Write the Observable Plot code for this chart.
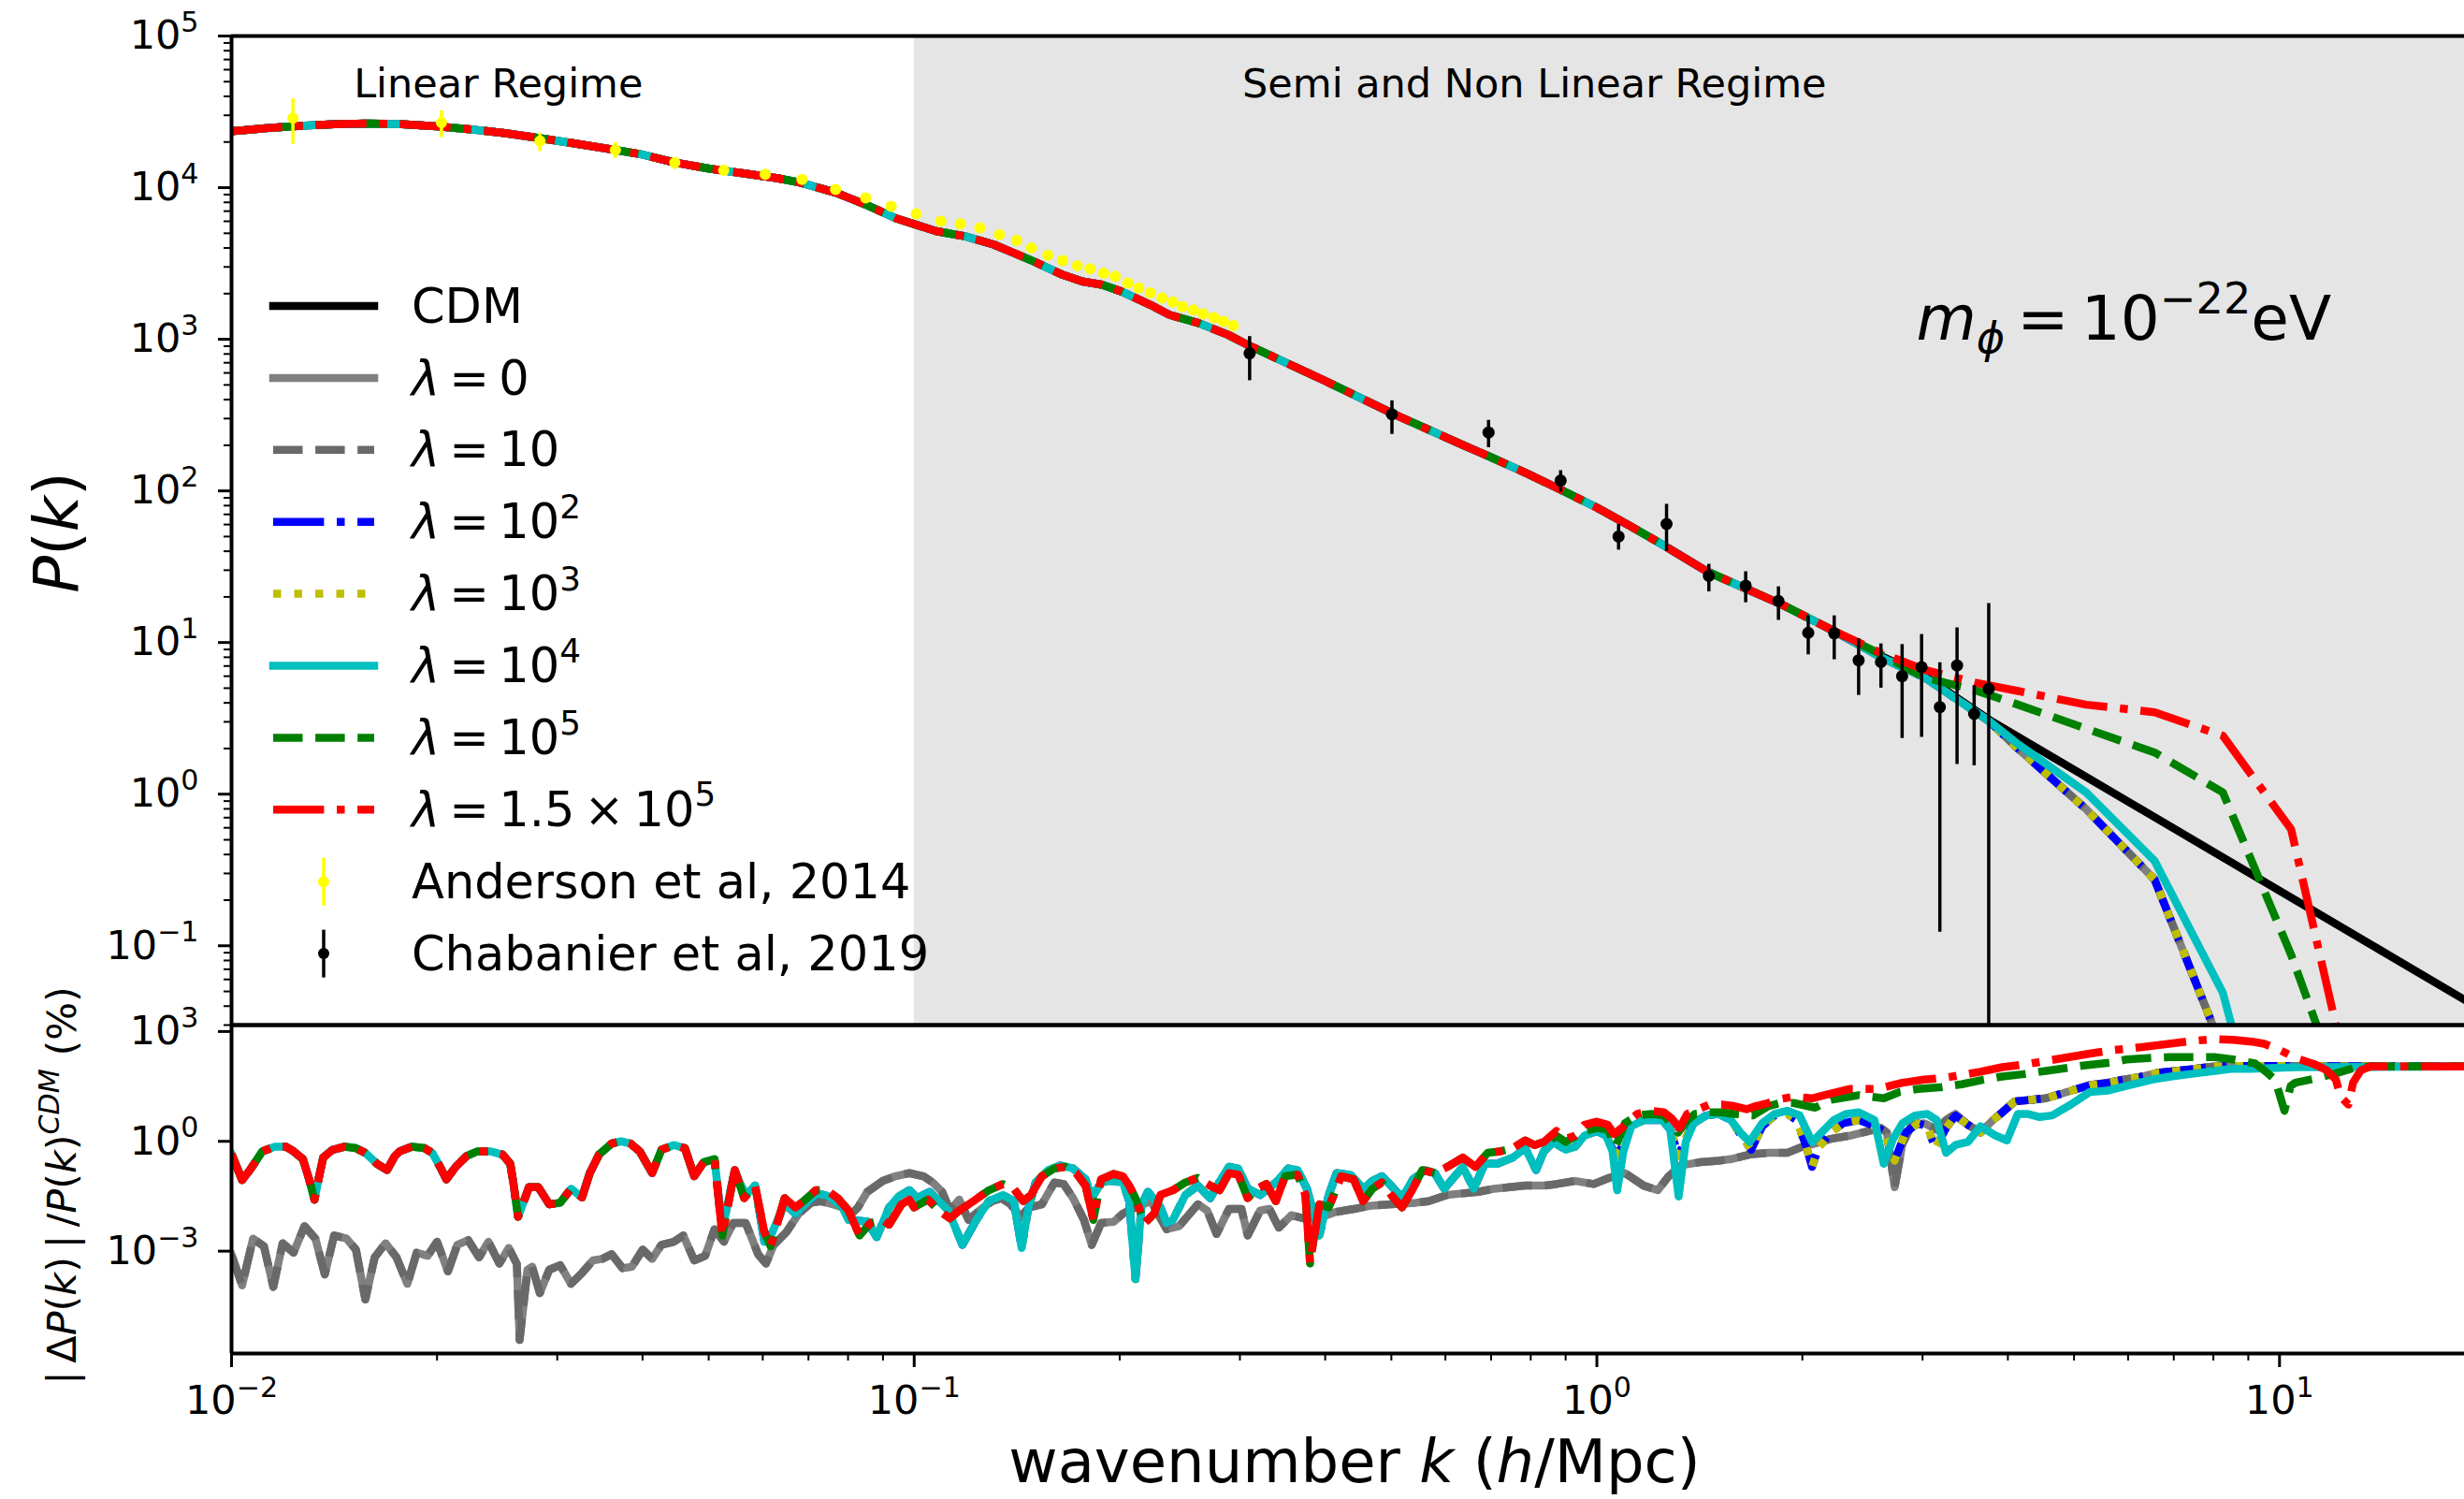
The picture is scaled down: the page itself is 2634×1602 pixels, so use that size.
<!DOCTYPE html>
<html><head><meta charset="utf-8">
<script src="https://cdn.jsdelivr.net/npm/d3@7"></script>
<script src="https://cdn.jsdelivr.net/npm/@observablehq/plot@0.6"></script>
<style>
body{margin:0;background:#fff;}
#fig{position:relative;width:2634px;height:1602px;overflow:hidden;background:#fff;font-family:"DejaVu Sans",sans-serif;}
#fig svg{position:absolute;left:0;overflow:visible;}
</style></head><body><div id="fig"></div>
<script>
// ===================== DATA =====================
// Top panel: power spectrum P(k), pairs [log10 k, log10 P]
const pkCommon = [[-2.0,4.372],[-1.95,4.392],[-1.9,4.407],[-1.85,4.418],[-1.8,4.423],[-1.75,4.419],[-1.7,4.404],[-1.65,4.385],[-1.6,4.36],[-1.548,4.326],[-1.5,4.293],[-1.438,4.249],[-1.4,4.22],[-1.351,4.166],[-1.3,4.125],[-1.25,4.094],[-1.2,4.062],[-1.167,4.033],[-1.115,3.967],[-1.071,3.888],[-1.028,3.80],[-0.968,3.713],[-0.925,3.679],[-0.883,3.624],[-0.854,3.569],[-0.825,3.514],[-0.783,3.426],[-0.754,3.382],[-0.725,3.360],[-0.697,3.316],[-0.654,3.227],[-0.626,3.161],[-0.583,3.106],[-0.540,3.029],[-0.511,2.962],[-0.40,2.73],[-0.297,2.506],[-0.20,2.31],[-0.154,2.22],[-0.10,2.11],[-0.054,2.01],[0.0,1.89],[0.046,1.776],[0.096,1.646],[0.162,1.467],[0.268,1.257],[0.35,1.07]];
const pkCDMTail = [[0.417,0.91],[0.48,0.78],[0.575,0.49],[1.271,-1.356]];
const pkLowLambdaTail = [[0.417,0.90],[0.48,0.77],[0.575,0.48],[0.617,0.30],[0.717,-0.10],[0.817,-0.563],[0.917,-1.69],[1.017,-3.0]];
const pkCyanTail = [[0.417,0.90],[0.48,0.77],[0.575,0.48],[0.617,0.33],[0.717,0.011],[0.817,-0.44],[0.917,-1.31],[1.017,-3.0]];
const pkGreenTail = [[0.417,0.92],[0.48,0.77],[0.555,0.684],[0.617,0.59],[0.717,0.431],[0.817,0.275],[0.917,0.011],[1.017,-1.06],[1.117,-2.3]];
const pkRedTail = [[0.417,0.93],[0.48,0.82],[0.555,0.735],[0.617,0.68],[0.717,0.59],[0.817,0.54],[0.917,0.385],[1.017,-0.232],[1.117,-2.2]];

// Observations
const andK  = [0.0123,0.0203,0.0283,0.0365,0.0446,0.0526,0.0605,0.0685,0.0767,0.0849,0.0925,0.1007,0.1094,0.1169,0.1248,0.1333,0.1413,0.1485,0.157,0.165,0.1734,0.181,0.1895,0.197,0.2056,0.2133,0.2218,0.2307,0.2393,0.2472,0.2564,0.265,0.2748,0.2838,0.2933];
const andP  = [28700,26850,20320,17740,14620,13000,12250,11350,9730,8570,7520,6710,6010,5770,5430,4900,4480,4000,3580,3300,3060,2920,2730,2600,2350,2180,2020,1870,1760,1640,1560,1470,1390,1310,1230];
const andHi = [38550,32140,22910,19820,15780,13650,12800,11850,10150,8930,7830,6980,6250,6000,5650,5100,4660,4160,3720,3430,3180,3040,2840,2700,2440,2270,2100,1940,1830,1710,1620,1530,1450,1360,1280];
const andLo = [19320,21380,17300,15600,13180,12350,11700,10850,9310,8210,7210,6440,5770,5540,5210,4700,4300,3840,3440,3170,2940,2800,2620,2500,2260,2090,1940,1800,1690,1570,1500,1410,1330,1260,1180];
const chabK  = [0.310,0.501,0.694,0.885,1.076,1.265,1.459,1.652,1.845,2.04,2.227,2.418,2.607,2.80,2.99,3.18,3.37,3.57,3.75];
const chabP  = [808,320,243,117,50,60.5,27.5,23.7,18.8,11.6,11.5,7.63,7.44,6.0,6.89,3.75,7.06,3.38,4.95];
const chabHi = [1042,393,292,136,60,81.6,32.8,29.3,23.3,15.0,15.0,10.6,9.8,9.7,11.3,7.37,12.5,5.2,18.1];
const chabLo = [533,236,193,98,40.7,40,21.6,18.3,14.0,8.3,7.7,4.48,5.0,2.33,2.37,0.123,1.57,1.54,0.001];

// Bottom panel: |ΔP|/P_CDM (%), pairs [log10 k, log10 value]
const relShared = [[-2.0,-0.35],[-1.9845,-1.056],[-1.973,-0.784],[-1.9548,-0.273],[-1.9365,-0.145],[-1.9205,-0.145],[-1.9091,-0.273],[-1.8954,-0.486],[-1.8863,-1.039],[-1.8785,-1.593],[-1.8726,-1.039],[-1.8657,-0.443],[-1.852,-0.230],[-1.8337,-0.145],[-1.8178,-0.187],[-1.804,-0.315],[-1.7858,-0.630],[-1.7721,-0.784],[-1.7607,-0.400],[-1.7538,-0.273],[-1.7356,-0.145],[-1.7173,-0.187],[-1.7059,-0.315],[-1.6944,-0.698],[-1.6853,-1.039],[-1.6716,-0.698],[-1.6556,-0.400],[-1.6396,-0.273],[-1.6214,-0.273],[-1.6031,-0.358],[-1.5917,-0.613],[-1.5872,-1.124],[-1.5803,-2.061],[-1.5734,-1.721],[-1.5643,-1.252],[-1.5506,-1.252],[-1.5346,-1.721],[-1.5186,-1.678],[-1.5026,-1.295],[-1.4866,-1.533],[-1.4752,-0.869],[-1.4615,-0.358],[-1.4432,-0.060],[-1.4295,0.000],[-1.4158,-0.060],[-1.4021,-0.273],[-1.3839,-0.869],[-1.3702,-0.230],[-1.3519,-0.102]];
const relRG = [[-1.3359,-0.187],[-1.3222,-0.954],[-1.3085,-0.571],[-1.2925,-0.486],[-1.2811,-2.572],[-1.2628,-0.784],[-1.2491,-1.550],[-1.2331,-1.210],[-1.2194,-2.487],[-1.2103,-2.871],[-1.1898,-1.550],[-1.1738,-1.806],[-1.1623,-1.635],[-1.1441,-1.337],[-1.1281,-1.337],[-1.1121,-1.550],[-1.0961,-1.891],[-1.0801,-2.572],[-1.0641,-2.232],[-1.0459,-2.147],[-1.0367,-2.274],[-1.0185,-1.721],[-1.0070,-1.593],[-1.0002,-1.806],[-0.9797,-1.593],[-0.9637,-1.891],[-0.9477,-2.104],[-0.9340,-1.891],[-0.9134,-1.635],[-0.8906,-1.337],[-0.8700,-1.167],[-0.8540,-1.295],[-0.8403,-1.635],[-0.8289,-1.465],[-0.8129,-0.954],[-0.7947,-0.741],[-0.7787,-0.698],[-0.7627,-0.869],[-0.7490,-1.210],[-0.7376,-2.147],[-0.7262,-1.039],[-0.7079,-0.89],[-0.6942,-0.954],[-0.6850,-1.210],[-0.6759,-1.550],[-0.6622,-2.232],[-0.6485,-1.976],[-0.6393,-1.465],[-0.6211,-1.337],[-0.6028,-1.124],[-0.5845,-0.997],[-0.5663,-1.210],[-0.5526,-1.337],[-0.5389,-0.869],[-0.5252,-0.911],[-0.5115,-1.550],[-0.4977,-1.295],[-0.4840,-1.167],[-0.4703,-1.635],[-0.4566,-0.954],[-0.4383,-0.911],[-0.4270,-1.465],[-0.4201,-3.339],[-0.4155,-2.743],[-0.4064,-1.721],[-0.3927,-1.806],[-0.3744,-0.954],[-0.3562,-1.039],[-0.3425,-1.635],[-0.3287,-1.295],[-0.3150,-1.124],[-0.3014,-1.465],[-0.2854,-1.806],[-0.2694,-1.295],[-0.2557,-0.784],[-0.2374,-0.869],[-0.2191,-0.698],[-0.1963,-0.443],[-0.1780,-0.698],[-0.1598,-0.315],[-0.1415,-0.273],[-0.1232,-0.187],[-0.1049,0.026],[-0.0913,-0.102],[-0.0776,-0.017]];
const relCB = [[-1.3359,-0.187],[-1.3222,-0.954],[-1.3085,-0.571],[-1.2925,-0.486],[-1.2811,-2.402],[-1.2628,-0.784],[-1.2560,-1.124],[-1.2468,-1.465],[-1.2331,-1.210],[-1.2194,-2.743],[-1.2080,-2.487],[-1.1898,-1.721],[-1.1738,-1.976],[-1.1555,-1.635],[-1.1418,-1.422],[-1.1235,-1.508],[-1.1053,-1.806],[-1.0961,-2.147],[-1.0687,-2.189],[-1.0550,-2.615],[-1.0367,-1.806],[-1.0230,-1.508],[-1.0070,-1.337],[-0.9956,-1.550],[-0.9774,-1.380],[-0.9637,-1.635],[-0.9500,-1.891],[-0.9294,-2.828],[-0.9089,-2.147],[-0.8906,-1.635],[-0.8700,-1.465],[-0.8540,-1.635],[-0.8426,-2.913],[-0.8335,-1.891],[-0.8221,-1.124],[-0.8038,-0.784],[-0.7855,-0.656],[-0.7673,-0.741],[-0.7490,-1.039],[-0.7399,-1.550],[-0.7262,-1.124],[-0.7124,-1.082],[-0.6942,-1.124],[-0.6850,-1.635],[-0.6759,-3.765],[-0.6668,-1.721],[-0.6576,-1.380],[-0.6393,-1.806],[-0.6302,-2.232],[-0.6211,-2.147],[-0.6028,-1.465],[-0.5845,-1.210],[-0.5663,-1.550],[-0.5480,-0.954],[-0.5389,-0.698],[-0.5252,-0.741],[-0.5115,-1.295],[-0.4932,-1.465],[-0.4703,-1.124],[-0.4521,-0.741],[-0.4383,-0.784],[-0.4247,-1.295],[-0.4064,-2.572],[-0.3927,-1.465],[-0.3813,-0.869],[-0.3607,-0.911],[-0.3425,-1.295],[-0.3287,-1.082],[-0.3150,-0.954],[-0.3014,-1.210],[-0.2854,-1.550],[-0.2694,-1.039],[-0.2511,-0.784],[-0.2374,-0.869],[-0.2237,-1.295],[-0.1963,-0.698],[-0.1803,-1.295],[-0.1643,-0.613],[-0.1461,-0.613],[-0.1232,-0.443],[-0.1049,-0.187],[-0.0890,-0.784]];
const relRedTail = [[-0.0593,0.281],[-0.0456,0.068],[-0.0319,0.153],[-0.0182,0.451],[0.0001,0.537],[0.0161,0.451],[0.0252,0.196],[0.0366,0.366],[0.0480,0.579],[0.0595,0.750],[0.0800,0.835],[0.0983,0.792],[0.1097,0.622],[0.1211,0.366],[0.1325,0.750],[0.1440,0.835],[0.1645,1.005],[0.1828,1.005],[0.2010,0.963],[0.2193,0.877],[0.2330,0.963],[0.2513,1.048],[0.2627,1.133],[0.2878,1.218],[0.3152,1.175],[0.3335,1.261],[0.3518,1.346],[0.3701,1.431],[0.4112,1.431],[0.4294,1.516],[0.4477,1.601],[0.4797,1.687],[0.5071,1.729],[0.5345,1.814],[0.5619,1.900],[0.5939,2.026],[0.6304,2.111],[0.6578,2.196],[0.7263,2.409],[0.7583,2.495],[0.7811,2.537],[0.8496,2.691],[0.8770,2.750],[0.9045,2.793],[0.9318,2.776],[0.9593,2.725],[0.9775,2.665],[1.0004,2.495],[1.0232,2.282],[1.0506,2.111],[1.0689,1.941],[1.0826,1.686],[1.0894,1.217],[1.1009,1.004],[1.1077,1.601],[1.1191,1.941],[1.1328,2.044],[1.2708,2.044]];
const relGreenTail = [[-0.0776,-0.102],[-0.0593,0.153],[-0.0456,-0.017],[-0.0182,0.281],[0.0001,0.366],[0.0161,0.324],[0.0275,-0.145],[0.0412,0.494],[0.0595,0.707],[0.0800,0.750],[0.0983,0.707],[0.1188,0.239],[0.1325,0.579],[0.1440,0.750],[0.1645,0.792],[0.1828,0.792],[0.2010,0.750],[0.2285,0.707],[0.2513,0.963],[0.2696,1.048],[0.2878,1.048],[0.3198,0.920],[0.3427,1.133],[0.3701,1.218],[0.3838,1.261],[0.4203,1.175],[0.4431,1.346],[0.4705,1.431],[0.5024,1.474],[0.5345,1.559],[0.5665,1.684],[0.5939,1.770],[0.6258,1.838],[0.6578,1.924],[0.7126,2.069],[0.7537,2.154],[0.7765,2.239],[0.8131,2.282],[0.8405,2.299],[0.9045,2.299],[0.9318,2.239],[0.9638,2.128],[0.9775,1.941],[0.9935,1.684],[1.0004,1.258],[1.0072,0.834],[1.0164,1.515],[1.0232,1.601],[1.0552,1.728],[1.0826,1.856],[1.1100,2.010],[1.1374,2.044],[1.2708,2.044]];
const relCyanTail = [[-0.0776,-0.273],[-0.0639,-0.017],[-0.0456,-0.230],[-0.0319,-0.145],[-0.0182,0.153],[0.0001,0.281],[0.0138,0.153],[0.0229,-0.273],[0.0298,-1.337],[0.0389,-0.273],[0.0503,0.409],[0.0686,0.579],[0.0960,0.579],[0.1074,0.324],[0.1198,-1.508],[0.1302,-0.017],[0.1417,0.494],[0.1599,0.707],[0.1782,0.750],[0.1965,0.579],[0.2102,0.239],[0.2239,-0.017],[0.2422,0.494],[0.2604,0.750],[0.2787,0.835],[0.2970,0.707],[0.3152,-0.017],[0.3289,0.239],[0.3472,0.579],[0.3655,0.750],[0.3838,0.792],[0.4066,0.579],[0.4203,-0.613],[0.4340,0.068],[0.4477,0.494],[0.4660,0.707],[0.4842,0.750],[0.4979,0.579],[0.5116,-0.315],[0.5253,-0.102],[0.5436,-0.017],[0.5619,0.409],[0.5847,0.153],[0.6007,0.026],[0.6167,0.749],[0.6304,0.749],[0.6487,0.663],[0.6669,0.706],[0.6943,1.004],[0.7218,1.345],[0.7492,1.387],[0.7766,1.515],[0.8131,1.686],[0.8405,1.771],[0.8770,1.856],[0.9136,1.941],[0.9318,1.984],[0.9593,1.984],[1.0232,2.026],[1.2708,2.044]];
const relBlueTail = [[-0.0776,-0.273],[-0.0639,-0.017],[-0.0456,-0.230],[-0.0319,-0.145],[-0.0182,0.153],[0.0001,0.281],[0.0138,0.153],[0.0275,-0.40],[0.0389,-0.10],[0.0503,0.409],[0.0686,0.579],[0.0960,0.579],[0.1074,0.324],[0.1198,-0.40],[0.1302,0.10],[0.1417,0.494],[0.1599,0.707],[0.1782,0.750],[0.1965,0.579],[0.2147,0.068],[0.2261,-0.230],[0.2422,0.409],[0.2604,0.707],[0.2787,0.750],[0.2924,0.579],[0.3061,-0.102],[0.3152,-0.698],[0.3244,-0.187],[0.3427,0.239],[0.3609,0.494],[0.3838,0.579],[0.4020,0.451],[0.4203,0.281],[0.4362,-0.528],[0.4522,0.239],[0.4705,0.494],[0.4842,0.409],[0.4956,-0.187],[0.5116,0.366],[0.5253,0.707],[0.5436,0.451],[0.5619,0.239],[0.5802,0.579],[0.5939,0.792],[0.6121,1.090],[0.6350,1.133],[0.6578,1.175],[0.6807,1.303],[0.7035,1.431],[0.7218,1.533],[0.7492,1.601],[0.7720,1.687],[0.7949,1.755],[0.8223,1.874],[0.8497,1.925],[0.8771,1.985],[0.9045,2.044],[0.9273,2.06],[1.2708,2.044]];
const relGray = [[-2.0,-3.1],[-1.9845,-3.935],[-1.9685,-2.658],[-1.9525,-2.871],[-1.9388,-3.978],[-1.9251,-2.785],[-1.9091,-3.041],[-1.8931,-2.317],[-1.8771,-2.658],[-1.8634,-3.637],[-1.8497,-2.572],[-1.8315,-2.658],[-1.8178,-2.956],[-1.8040,-4.319],[-1.7903,-3.169],[-1.7744,-2.785],[-1.7584,-3.169],[-1.7424,-3.893],[-1.7287,-3.041],[-1.7127,-3.126],[-1.6990,-2.743],[-1.6830,-3.552],[-1.6693,-2.828],[-1.6533,-2.700],[-1.6374,-3.169],[-1.6237,-2.743],[-1.6077,-3.339],[-1.5939,-2.913],[-1.5820,-3.35],[-1.5780,-5.426],[-1.5665,-3.509],[-1.5597,-3.424],[-1.5483,-4.148],[-1.5346,-3.509],[-1.5186,-3.382],[-1.5026,-3.893],[-1.4866,-3.595],[-1.4706,-3.254],[-1.4569,-3.211],[-1.4432,-3.084],[-1.4272,-3.467],[-1.4135,-3.424],[-1.3976,-2.956],[-1.3839,-3.211],[-1.3702,-2.828],[-1.3519,-2.743],[-1.3382,-2.572],[-1.3222,-3.254],[-1.3062,-3.126],[-1.2925,-2.402],[-1.2788,-2.743],[-1.2651,-2.232],[-1.2468,-2.232],[-1.2286,-3.084],[-1.2172,-3.339],[-1.2057,-2.828],[-1.1875,-2.487],[-1.1692,-1.976],[-1.1509,-1.678],[-1.1372,-1.635],[-1.1190,-1.721],[-1.1030,-1.806],[-1.0915,-1.976],[-1.0824,-1.806],[-1.0687,-1.380],[-1.0459,-1.082],[-1.0276,-0.954],[-1.0070,-0.869],[-0.9865,-0.954],[-0.9728,-1.124],[-0.9591,-1.380],[-0.9477,-1.891],[-0.9340,-1.593],[-0.9203,-2.147],[-0.9043,-1.891],[-0.8860,-1.635],[-0.8723,-1.550],[-0.8586,-1.721],[-0.8449,-2.061],[-0.8312,-1.806],[-0.8129,-1.721],[-0.7947,-1.124],[-0.7810,-1.167],[-0.7673,-1.550],[-0.7513,-2.147],[-0.7399,-2.828],[-0.7262,-2.232],[-0.7079,-2.2],[-0.6942,-1.976],[-0.6759,-1.806],[-0.6531,-1.635],[-0.6302,-2.402],[-0.6119,-2.317],[-0.5845,-1.721],[-0.5708,-1.891],[-0.5571,-2.530],[-0.5389,-1.848],[-0.5206,-1.848],[-0.5115,-2.572],[-0.4932,-1.891],[-0.4795,-1.848],[-0.4658,-2.359],[-0.4475,-2.019],[-0.4292,-2.104],[-0.4018,-2.061],[-0.3836,-1.934],[-0.3562,-1.848],[-0.3333,-1.763],[-0.3014,-1.721],[-0.2648,-1.678],[-0.2465,-1.635],[-0.2191,-1.465],[-0.1963,-1.422],[-0.1735,-1.380],[-0.1506,-1.295],[-0.1278,-1.252],[-0.1049,-1.210],[-0.0776,-1.210],[-0.0593,-1.167],[-0.0319,-1.082],[-0.0045,-1.167],[0.0183,-0.997],[0.0412,-0.869],[0.0686,-1.210],[0.0892,-1.337],[0.1051,-0.954],[0.1234,-0.656],[0.1508,-0.571],[0.1782,-0.528],[0.1965,-0.486],[0.2239,-0.358],[0.2513,-0.315],[0.2787,-0.315],[0.3015,-0.145],[0.3198,-0.060],[0.3427,0.068],[0.3701,0.153],[0.3975,0.281],[0.4158,0.366],[0.4249,0.239],[0.4362,-1.252],[0.4477,-0.060],[0.4614,0.451],[0.4797,0.494],[0.4979,0.324],[0.5116,0.579],[0.5253,0.750]];

// Ticks
const xMajor = [0.01, 0.1, 1, 10];
const xMinor = [0.02,0.03,0.04,0.05,0.06,0.07,0.08,0.09,0.2,0.3,0.4,0.5,0.6,0.7,0.8,0.9,2,3,4,5,6,7,8,9];
const yTopMajor = [0.1, 1, 10, 100, 1000, 10000, 100000];
const yBotMajor = [0.001, 1, 1000];

// Labels
const regimeLabels = ["Linear Regime", "Semi and Non Linear Regime"];
const dataLabels = ["Anderson et al, 2014", "Chabanier et al, 2019"];

// ===================== STYLE =====================
const XMAX = 18.66, YTOP = [0.03, 1e5], YBOT = [1.6e-6, 1.5e3];
const LW = 8.5;
const DASHED = "31.5,13.6", DASHDOT = "54.4,13.6,8.5,13.6", DOTTED = "8.5,14";
const FONT = "DejaVu Sans, sans-serif";

const models = [
  {id:"cdm",  color:"black",   dash:null,    leg:["CDM"]},
  {id:"l0",   color:"#808080", dash:null,    leg:[["λ","i"],"\u2009=\u20090"]},
  {id:"l10",  color:"#696969", dash:DASHED,  leg:[["λ","i"],"\u2009=\u200910"]},
  {id:"l1e2", color:"#0000ff", dash:DASHDOT, leg:[["λ","i"],"\u2009=\u200910",["2","^"]]},
  {id:"l1e3", color:"#bfbf00", dash:DOTTED,  leg:[["λ","i"],"\u2009=\u200910",["3","^"]]},
  {id:"l1e4", color:"#00bfbf", dash:null,    leg:[["λ","i"],"\u2009=\u200910",["4","^"]]},
  {id:"l1e5", color:"#008000", dash:DASHED,  leg:[["λ","i"],"\u2009=\u200910",["5","^"]]},
  {id:"l15e5",color:"#ff0000", dash:DASHDOT, leg:[["λ","i"],"\u2009=\u20091.5\u2009×\u200910",["5","^"]]}
];

const pkData = {
  cdm: pkCommon.concat(pkCDMTail),
  l0: pkCommon.concat(pkLowLambdaTail), l10: pkCommon.concat(pkLowLambdaTail),
  l1e2: pkCommon.concat(pkLowLambdaTail), l1e3: pkCommon.concat(pkLowLambdaTail),
  l1e4: pkCommon.concat(pkCyanTail), l1e5: pkCommon.concat(pkGreenTail), l15e5: pkCommon.concat(pkRedTail)
};
const grayFull = relGray.concat(relBlueTail.filter(d => d[0] > 0.53));
const relData = {
  l0: grayFull, l10: grayFull,
  l1e2: relShared.concat(relCB, relBlueTail), l1e3: relShared.concat(relCB, relBlueTail),
  l1e4: relShared.concat(relCB, relCyanTail),
  l1e5: relShared.concat(relRG, relGreenTail), l15e5: relShared.concat(relRG, relRedTail)
};
const pts = a => a.map(([lk, lv]) => ({k: 10 ** lk, v: 10 ** lv}));
const anderson = andK.map((k, i) => ({k, p: andP[i], lo: andLo[i], hi: andHi[i]}));
const chabanier = chabK.map((k, i) => ({k, p: chabP[i], lo: chabLo[i], hi: chabHi[i]}));
const expFmt = d => "E" + Math.round(Math.log10(d));
const blank = () => "";

function lineMark(data, m) {
  const o = {x: "k", y: "v", stroke: m.color, strokeWidth: LW, strokeLinejoin: "round",
             strokeLinecap: m.dash ? "butt" : "square", clip: true};
  if (m.dash) o.strokeDasharray = m.dash;
  return Plot.line(pts(data), o);
}

// ===================== TOP PANEL =====================
const topPlot = Plot.plot({
  width: 2634, height: 1095, marginTop: 38, marginBottom: 0, marginLeft: 247, marginRight: 0,
  style: {background: "transparent", fontFamily: FONT, overflow: "visible"},
  x: {type: "log", domain: [0.01, XMAX], axis: null},
  y: {type: "log", domain: YTOP, label: null},
  marks: [
    Plot.rect([{x1: 0.1, x2: XMAX, y1: YTOP[0], y2: YTOP[1]}], {x1: "x1", x2: "x2", y1: "y1", y2: "y2", fill: "#e5e5e5"}),
    ...models.map(m => lineMark(pkData[m.id], m)),
    Plot.ruleX(anderson, {x: "k", y1: "lo", y2: "hi", stroke: "#ffff00", strokeWidth: 3.5, clip: true}),
    Plot.dot(anderson, {x: "k", y: "p", r: 6, fill: "#ffff00", stroke: "none"}),
    Plot.ruleX(chabanier, {x: "k", y1: "lo", y2: "hi", stroke: "black", strokeWidth: 3.5, clip: true}),
    Plot.dot(chabanier, {x: "k", y: "p", r: 6.5, fill: "black", stroke: "none"}),
    Plot.text([{k: 0.0246, p: 47900, t: regimeLabels[0]}, {k: 0.81, p: 47900, t: regimeLabels[1]}],
      {x: "k", y: "p", text: "t", fontSize: 43, textAnchor: "middle", fill: "black"}),
    Plot.text([{k: 2.936, p: 1348, t: "MASSNOTE"}], {x: "k", y: "p", text: "t", fontSize: 66, textAnchor: "start", fill: "black"}),
    Plot.axisY(yTopMajor, {tickSize: 14, tickPadding: 21, fontSize: 43, strokeWidth: 3, tickFormat: expFmt, label: null}),
    Plot.axisY((() => { const a = []; for (const e of [-2,-1,0,1,2,3,4]) for (let m = 2; m <= 9; m++) { const v = m * 10 ** e; if (v >= YTOP[0] && v < YTOP[1]) a.push(v); } return a; })(),
      {tickSize: 8, strokeWidth: 2, tickFormat: blank, label: null}),
    Plot.ruleX([0.01], {stroke: "black", strokeWidth: 4}),
    Plot.ruleY([YTOP[1]], {stroke: "black", strokeWidth: 4}),
    Plot.ruleY([YTOP[0]], {stroke: "black", strokeWidth: 4})
  ]
});
topPlot.style.top = "0px";

// ===================== BOTTOM PANEL =====================
const botPlot = Plot.plot({
  width: 2634, height: 507, marginTop: 0, marginBottom: 156, marginLeft: 247, marginRight: 0,
  style: {background: "transparent", fontFamily: FONT, overflow: "visible"},
  x: {type: "log", domain: [0.01, XMAX], label: null},
  y: {type: "log", domain: YBOT, label: null},
  marks: [
    ...models.filter(m => m.id !== "cdm").map(m => lineMark(relData[m.id], m)),
    Plot.axisY(yBotMajor, {tickSize: 14, tickPadding: 21, fontSize: 43, strokeWidth: 3, tickFormat: expFmt, label: null}),
    Plot.axisX(xMajor, {tickSize: 15, tickPadding: 19, fontSize: 43, strokeWidth: 3, tickFormat: expFmt, label: null}),
    Plot.axisX(xMinor, {tickSize: 8, strokeWidth: 2, tickFormat: blank, label: null}),
    Plot.ruleX([0.01], {stroke: "black", strokeWidth: 4}),
    Plot.ruleY([YBOT[1]], {stroke: "black", strokeWidth: 4}),
    Plot.ruleY([YBOT[0]], {stroke: "black", strokeWidth: 4})
  ]
});
botPlot.style.top = "1095px";

// ===================== RICH TEXT HELPERS =====================
function fillRich(t, fs, parts) {
  let shift = 0;
  for (const p of parts) {
    const [s, st] = typeof p === "string" ? [p, ""] : [p[0], p[1] || ""];
    const ts = t.append("tspan").text(s);
    if (st.includes("i")) ts.attr("font-style", "italic");
    let target = 0;
    if (st.includes("^")) { target = -0.42 * fs; ts.attr("font-size", 0.7 * fs); }
    else if (st.includes("_")) { target = 0.22 * fs; ts.attr("font-size", 0.7 * fs); }
    if (target !== shift) { ts.attr("dy", target - shift); shift = target; }
  }
  return t;
}
function fixText(svg) {
  d3.select(svg).selectAll("text").each(function () {
    const s = this.textContent;
    const m = /^E(-?\d+)$/.exec(s);
    const sel = d3.select(this);
    if (m) { sel.text(""); fillRich(sel, 43, ["10", [m[1].replace("-", "\u2212"), "^"]]); }
    else if (s === "MASSNOTE") { sel.text(""); fillRich(sel, 66, [["m", "i"], ["ϕ", "_i"], "\u2009=\u200910", ["\u221222", "^"], "eV"]); }
  });
}
fixText(topPlot); fixText(botPlot);

const fig = document.getElementById("fig");
fig.appendChild(topPlot);
fig.appendChild(botPlot);

// ===================== OVERLAY: legend & axis titles =====================
const ov = d3.create("svg").attr("width", 2634).attr("height", 1602)
  .style("top", "0px").attr("font-family", FONT);
function rich(x, y, fs, parts, anchor, transform) {
  const t = ov.append("text").attr("x", x).attr("y", y).attr("font-size", fs).attr("text-anchor", anchor || "start").attr("fill", "black");
  if (transform) t.attr("transform", transform);
  return fillRich(t, fs, parts);
}
const LEG_Y0 = 327, LEG_DY = 76.9, LEG_FS = 51;
models.forEach((m, i) => {
  const y = LEG_Y0 + i * LEG_DY;
  const ln = ov.append("line").attr("x1", 292).attr("x2", 400).attr("y1", y).attr("y2", y)
    .attr("stroke", m.color).attr("stroke-width", LW).attr("stroke-linecap", m.dash ? "butt" : "square");
  if (m.dash) ln.attr("stroke-dasharray", m.dash);
  rich(440, y + 17.6, LEG_FS, m.leg);
});
[["#ffff00", dataLabels[0]], ["black", dataLabels[1]]].forEach(([c, lab], j) => {
  const y = LEG_Y0 + (models.length + j) * LEG_DY;
  ov.append("line").attr("x1", 346).attr("x2", 346).attr("y1", y - 25.5).attr("y2", y + 25.5).attr("stroke", c).attr("stroke-width", 3.5);
  ov.append("circle").attr("cx", 346).attr("cy", y).attr("r", 6).attr("fill", c);
  rich(440, y + 17.6, LEG_FS, [lab]);
});
rich(0, 0, 66, [["P", "i"], "(", ["k", "i"], ")"], "middle", "translate(83,569) rotate(-90)");
rich(0, 0, 43, ["|\u2009Δ", ["P", "i"], "(", ["k", "i"], ")\u2009|\u2009/", ["P", "i"], "(", ["k", "i"], ")", ["CDM", "^i"], " (%)"], "middle", "translate(81,1267) rotate(-90)");
rich(1448, 1584, 64, ["wavenumber ", ["k", "i"], " (", ["h", "i"], "/Mpc)"], "middle");
fig.appendChild(ov.node());
</script></body></html>
